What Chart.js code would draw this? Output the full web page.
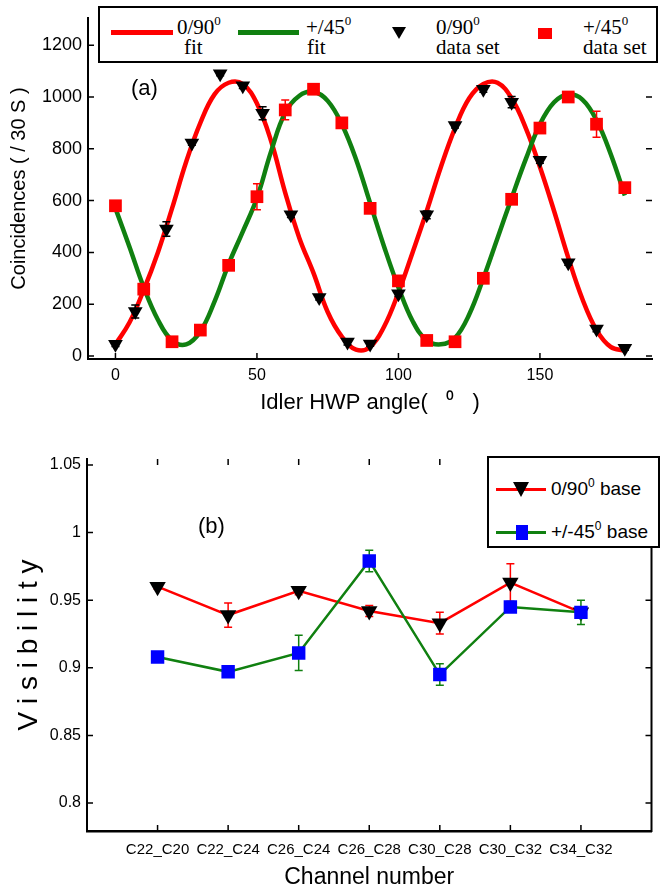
<!DOCTYPE html>
<html><head><meta charset="utf-8">
<script src="https://cdn.jsdelivr.net/npm/chart.js@4.4.1/dist/chart.umd.min.js"></script>
<style>
html,body{margin:0;padding:0;background:#fff;width:661px;height:892px;overflow:hidden;font-family:"Liberation Sans",Arial,sans-serif;}
#wrapA{position:absolute;left:0;top:0;width:661px;height:420px;}
#wrapB{position:absolute;left:0;top:430px;width:661px;height:462px;}
.box{position:absolute;border:2px solid #000;background:#fff;box-sizing:border-box;}
.sw{position:absolute;}
.lt{position:absolute;font-family:"Liberation Serif","Times New Roman",serif;font-size:21px;line-height:21px;white-space:nowrap;color:#000;}
.lt sup{font-size:13px;line-height:0;vertical-align:0;position:relative;top:-9px;}
.lb{position:absolute;font-family:"Liberation Sans",Arial,sans-serif;font-size:19px;line-height:22px;white-space:nowrap;color:#000;}
.lb sup{font-size:12px;line-height:0;vertical-align:0;position:relative;top:-8px;}
.tag{position:absolute;font-family:"Liberation Sans",Arial,sans-serif;font-size:22px;color:#000;white-space:nowrap;}
</style>
</head><body>
<div id="wrapA"><canvas id="cA"></canvas></div>
<div id="wrapB"><canvas id="cB"></canvas></div>

<!-- legend (a) -->
<div class="box" style="left:98px;top:6px;width:560px;height:57px;">
  <div class="sw" style="left:11px;top:22px;width:62px;height:5px;background:#ff0000;"></div>
  <div class="lt" style="left:77px;top:9px;">0/90<sup>0</sup></div>
  <div class="lt" style="left:84px;top:29px;">fit</div>
  <div class="sw" style="left:138px;top:22px;width:61px;height:5px;background:#108010;"></div>
  <div class="lt" style="left:206px;top:9px;">+/45<sup>0</sup></div>
  <div class="lt" style="left:207px;top:29px;">fit</div>
  <div class="sw" style="left:292px;top:19px;width:0;height:0;border-left:7px solid transparent;border-right:7px solid transparent;border-top:12px solid #000;"></div>
  <div class="lt" style="left:336px;top:9px;">0/90<sup>0</sup></div>
  <div class="lt" style="left:336px;top:29px;">data set</div>
  <div class="sw" style="left:438px;top:20px;width:14px;height:11px;background:#ff0000;"></div>
  <div class="lt" style="left:483px;top:9px;">+/45<sup>0</sup></div>
  <div class="lt" style="left:483px;top:29px;">data set</div>
</div>
<div class="tag" style="left:131px;top:75px;">(a)</div>

<!-- legend (b) -->
<div class="box" style="left:487px;top:456px;width:173px;height:92px;">
  <div class="sw" style="left:7px;top:30px;width:50px;height:3px;background:#ff0000;"></div>
  <div class="sw" style="left:24px;top:24px;width:0;height:0;border-left:8px solid transparent;border-right:8px solid transparent;border-top:15px solid #000;"></div>
  <div class="lb" style="left:62px;top:20px;">0/90<sup>0</sup> base</div>
  <div class="sw" style="left:7px;top:73px;width:50px;height:3px;background:#108010;"></div>
  <div class="sw" style="left:27px;top:67px;width:12px;height:15px;background:#0000ff;"></div>
  <div class="lb" style="left:62px;top:63px;">+/-45<sup>0</sup> base</div>
</div>
<div class="tag" style="left:198px;top:513px;">(b)</div>

<script>
// ---------- data (a) ----------
const angleTicks = [0, 50, 100, 150];
const countTicks = [0, 200, 400, 600, 800, 1000, 1200];

const fitAngles = [0,5,10,15,20,25,30,35,40,45,50,55,60,65,70,75,80,85,90,95,100,105,110,115,120,125,130,135,140,145,150,155,160,165,170,175,180];
const fit090 = [45,130,255,400,570,750,900,1010,1055,1050,975,830,630,455,320,170,75,25,35,115,245,400,560,730,880,995,1050,1055,995,880,730,560,380,220,100,35,20];
const fit45  = [570,420,265,140,60,45,95,210,355,480,610,790,940,1005,1020,985,895,760,590,420,265,135,60,45,70,160,300,455,610,760,895,980,1010,990,910,780,620];

const setAngles45 = [0,10,20,30,40,50,60,70,80,90,100,110,120,130,140,150,160,170,180];
const set45    = [580,258,55,100,350,615,950,1030,900,570,290,60,55,300,605,880,1000,895,650];
const set45Err = [0,0,0,0,0,50,38,0,0,0,0,0,0,0,0,0,0,50,0];

const setAngles090 = [0,7,18,27,37,45,52,62,72,82,90,100,110,120,130,140,150,160,170,180];
const set090    = [45,172,490,822,1090,1043,937,545,226,54,46,240,545,890,1030,980,756,360,104,30];
const set090Err = [8,25,28,8,8,10,25,10,10,12,8,10,15,10,12,22,12,10,10,8];

// ---------- data (b) ----------
const channels = ['C22_C20','C22_C24','C26_C24','C26_C28','C30_C28','C30_C32','C34_C32'];
const visTicks = [0.8, 0.85, 0.9, 0.95, 1, 1.05];
const visTickLabels = ['0.8','0.85','0.9','0.95','1','1.05'];
const vis090    = [0.960, 0.939, 0.957, 0.942, 0.933, 0.963, 0.941];
const vis090Err = [0.002, 0.009, 0.003, 0.004, 0.008, 0.014, 0.003];
const vis45     = [0.908, 0.897, 0.911, 0.979, 0.895, 0.945, 0.941];
const vis45Err  = [0.003, 0.003, 0.013, 0.008, 0.008, 0.004, 0.009];

// ---------- helpers ----------
const pts = (xs, ys) => xs.map((x, i) => ({x: x, y: ys[i]}));

const errPlugin = {
  id: 'errBars',
  beforeDatasetDraw(chart, args) {
    const ds = chart.data.datasets[args.index];
    if (!ds.errors) return;
    const meta = args.meta;
    const ys = chart.scales[meta.yAxisID];
    const ctx = chart.ctx;
    ctx.save();
    ctx.strokeStyle = ds.errColor || ds.borderColor;
    ctx.lineWidth = ds.errWidth || 1.5;
    ctx.beginPath();
    meta.data.forEach((el, j) => {
      const e = ds.errors[j];
      if (!e) return;
      const v = ds.data[j].y;
      const y1 = ys.getPixelForValue(v + e), y2 = ys.getPixelForValue(v - e);
      const x = el.x, c = ds.capHalf || 4;
      ctx.moveTo(x, y1); ctx.lineTo(x, y2);
      ctx.moveTo(x - c, y1); ctx.lineTo(x + c, y1);
      ctx.moveTo(x - c, y2); ctx.lineTo(x + c, y2);
    });
    ctx.stroke();
    ctx.restore();
  }
};

const tickPlugin = {
  id: 'inTicks',
  afterDraw(chart, args, o) {
    const {ctx, chartArea: a, scales} = chart;
    const xs = scales.x, ys = scales.y, L = o.len || 6;
    ctx.save();
    ctx.strokeStyle = '#000';
    ctx.lineWidth = 1.5;
    ctx.beginPath();
    xs.ticks.forEach(t => {
      const p = xs.getPixelForValue(t.value);
      if (o.bottom) { ctx.moveTo(p, a.bottom); ctx.lineTo(p, a.bottom - L); }
      if (o.top) { ctx.moveTo(p, a.top); ctx.lineTo(p, a.top + L); }
    });
    ys.ticks.forEach(t => {
      const p = ys.getPixelForValue(t.value);
      if (o.left) { ctx.moveTo(a.left, p); ctx.lineTo(a.left + L, p); }
      if (o.right) { ctx.moveTo(a.right, p); ctx.lineTo(a.right - L, p); }
    });
    ctx.stroke();
    if (o.rightLine) {
      ctx.lineWidth = 2;
      ctx.beginPath();
      ctx.moveTo(a.right, a.top); ctx.lineTo(a.right, a.bottom + 1);
      ctx.stroke();
    }
    ctx.restore();
  }
};

Chart.defaults.font.family = '"Liberation Sans", Arial, sans-serif';
Chart.defaults.color = '#000';
Chart.defaults.animation = false;

// ---------- chart (a) ----------
new Chart(document.getElementById('cA'), {
  type: 'scatter',
  data: {
    datasets: [
      {label: '+/45 data set', data: pts(setAngles45, set45), errors: set45Err, errColor: '#ff0000',
       pointStyle: 'rect', pointRadius: 9, backgroundColor: '#ff0000', borderColor: '#ff0000', borderWidth: 0,
       showLine: false, order: 0, capHalf: 4},
      {label: '0/90 data set', data: pts(setAngles090, set090), errors: set090Err, errColor: '#000',
       pointStyle: 'triangle', rotation: 180, pointRadius: 8.5, backgroundColor: '#000', borderColor: '#000', borderWidth: 0,
       showLine: false, order: 1, capHalf: 4},
      {label: '+/45 fit', data: pts(fitAngles, fit45), showLine: true, borderColor: '#108010', borderWidth: 4.5,
       pointRadius: 0, tension: 0.4, order: 2},
      {label: '0/90 fit', data: pts(fitAngles, fit090), showLine: true, borderColor: '#ff0000', borderWidth: 4.5,
       pointRadius: 0, tension: 0.4, order: 3}
    ]
  },
  options: {
    responsive: true, maintainAspectRatio: false,
    layout: {padding: {left: 0, right: 2, top: 18, bottom: 0}},
    plugins: {legend: {display: false}, tooltip: {enabled: false},
      inTicks: {len: 6, bottom: true, left: true, right: true}},
    scales: {
      x: {type: 'linear', min: -9.7, max: 189.6,
        afterBuildTicks: s => { s.ticks = angleTicks.map(v => ({value: v})); },
        afterFit: s => { s.height = 61; },
        grid: {display: false, drawTicks: false},
        border: {display: true, color: '#000', width: 2},
        ticks: {padding: 7, font: {size: 16}, callback: v => String(v)},
        title: {display: true, text: 'Idler HWP angle(   \u2070   )', font: {size: 22}, padding: {top: 0, bottom: 4}}
      },
      y: {type: 'linear', min: -11.6, max: 1305,
        afterBuildTicks: s => { s.ticks = countTicks.map(v => ({value: v})); },
        afterFit: s => { s.width = 88; },
        grid: {display: false, drawTicks: false},
        border: {display: true, color: '#000', width: 2},
        ticks: {padding: 6, font: {size: 18}, callback: v => String(v)},
        title: {display: true, text: 'Coincidences ( / 30 S )', font: {size: 20}, padding: {top: 7, bottom: 0}}
      }
    }
  },
  plugins: [errPlugin, tickPlugin]
});

// ---------- chart (b) ----------
const idx = channels.map((c, i) => i);
new Chart(document.getElementById('cB'), {
  type: 'scatter',
  data: {
    datasets: [
      {label: '+/-45 base', data: pts(idx, vis45), errors: vis45Err, errColor: '#108010', capHalf: 4,
       showLine: true, borderColor: '#108010', borderWidth: 2.5, tension: 0,
       pointStyle: 'rect', pointRadius: 9.5, pointBackgroundColor: '#0000ff', pointBorderColor: '#0000ff', pointBorderWidth: 0, order: 0},
      {label: '0/90 base', data: pts(idx, vis090), errors: vis090Err, errColor: '#ff0000', capHalf: 4,
       showLine: true, borderColor: '#ff0000', borderWidth: 2.5, tension: 0,
       pointStyle: 'triangle', rotation: 180, pointRadius: 9.5, pointBackgroundColor: '#000', pointBorderColor: '#000', pointBorderWidth: 0, order: 1}
    ]
  },
  options: {
    responsive: true, maintainAspectRatio: false,
    layout: {padding: {left: 0, right: 2, top: 29, bottom: 0}},
    plugins: {legend: {display: false}, tooltip: {enabled: false},
      inTicks: {len: 6, bottom: true, top: true, left: true, right: true, rightLine: true}},
    scales: {
      x: {type: 'linear', min: -1, max: 7,
        afterBuildTicks: s => { s.ticks = idx.map(v => ({value: v})); },
        afterFit: s => { s.height = 61; },
        grid: {display: false, drawTicks: false},
        border: {display: true, color: '#000', width: 2.5},
        ticks: {padding: 10, font: {size: 15}, autoSkip: false, maxRotation: 0, callback: v => channels[v]},
        title: {display: true, text: 'Channel number', font: {size: 23}, padding: {top: 0, bottom: 1}}
      },
      y: {type: 'linear', min: 0.7793, max: 1.0544,
        afterBuildTicks: s => { s.ticks = visTicks.map(v => ({value: v})); },
        afterFit: s => { s.width = 87; },
        grid: {display: false, drawTicks: false},
        border: {display: true, color: '#000', width: 2},
        ticks: {padding: 6, font: {size: 16}, callback: (v, i) => visTickLabels[i]},
        title: {display: true, text: 'V i s i b i l i t y', font: {size: 28}, padding: {top: 12, bottom: 0}}
      }
    }
  },
  plugins: [errPlugin, tickPlugin]
});
</script>
</body></html>
